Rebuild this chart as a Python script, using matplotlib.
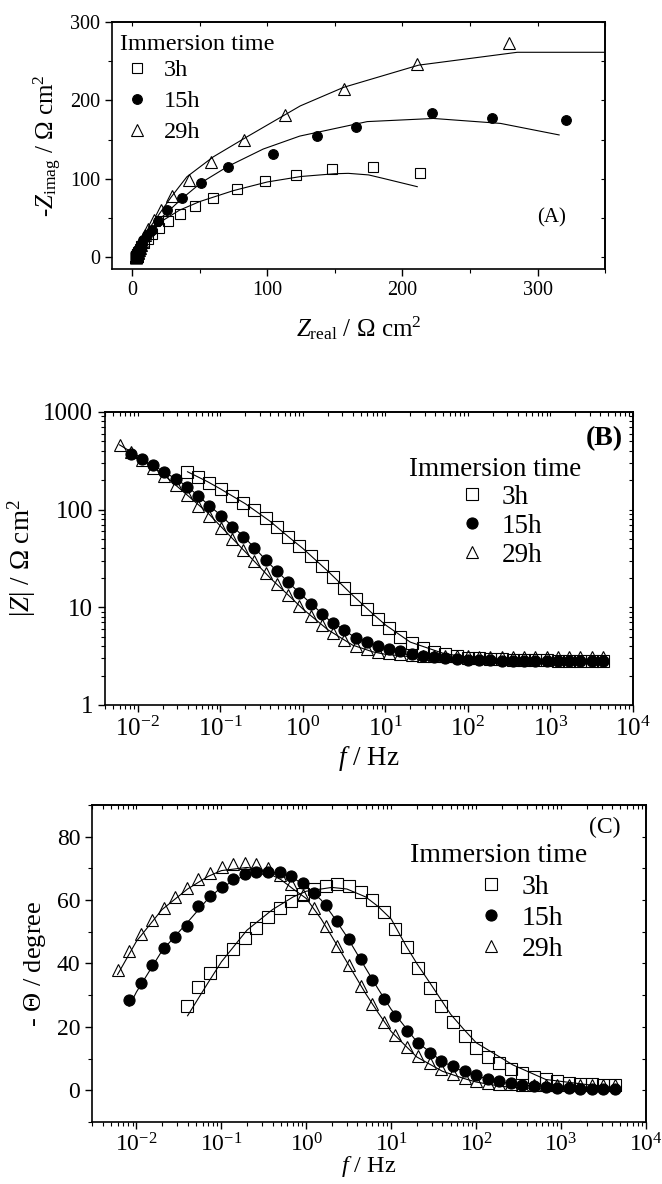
import numpy as np
import matplotlib
matplotlib.use('Agg')
from matplotlib import pyplot as plt
from matplotlib.ticker import MultipleLocator, FixedLocator, FixedFormatter, LogLocator, NullFormatter

plt.rcParams['font.family'] = 'Liberation Serif'
plt.rcParams['mathtext.fontset'] = 'custom'
plt.rcParams['mathtext.rm'] = 'Liberation Serif'
plt.rcParams['mathtext.it'] = 'Liberation Serif:italic'
plt.rcParams['axes.linewidth'] = 1.2

# measurement frequencies (Hz), 29h series uses all of them
freq = [0.0060, 0.0082, 0.0112, 0.0154, 0.0210, 0.0288, 0.0394, 0.0538, 0.0738, 0.101,
        0.138, 0.189, 0.258, 0.354, 0.484, 0.662, 0.906, 1.24, 1.70, 2.32,
        3.18, 4.35, 5.94, 8.13, 11.1, 15.2, 20.8, 28.5, 39.0, 53.4,
        73.1, 100, 137, 187, 256, 351, 480, 656, 898, 1230,
        1683, 2301, 3148, 4306]
f_29h = freq
f_15h = freq[1:]
f_3h = freq[6:]

# |Z| (ohm cm2)
zmod_3h = [245, 218, 189, 163, 139, 118, 99, 82, 66, 53,
           42.5, 33.6, 26.5, 20.5, 15.9, 12.2, 9.55, 7.55, 6.1, 5.0,
           4.3, 3.81, 3.52, 3.34, 3.18, 3.06, 3.0, 2.95, 2.92, 2.9,
           2.88, 2.87, 2.86, 2.85, 2.85, 2.84, 2.84, 2.84]
zmod_15h = [370, 328, 288, 245, 208, 172, 139, 110, 86, 67,
            52, 40, 30.5, 23.3, 18, 14, 10.9, 8.6, 6.95, 5.8,
            4.9, 4.46, 4.03, 3.73, 3.53, 3.35, 3.2, 3.1, 3.0, 2.95,
            2.9, 2.88, 2.86, 2.85, 2.84, 2.83, 2.83, 2.82, 2.82, 2.81,
            2.81, 2.8, 2.8]
zmod_29h = [460, 385, 325, 268, 220, 178, 140, 110, 85, 65,
            50, 38.5, 29.5, 22.5, 17.3, 13.3, 10.4, 8.2, 6.6, 5.4,
            4.6, 4.0, 3.7, 3.5, 3.38, 3.3, 3.24, 3.2, 3.18, 3.16,
            3.15, 3.14, 3.13, 3.12, 3.12, 3.11, 3.11, 3.1, 3.1, 3.1,
            3.1, 3.1, 3.1, 3.1]

# -phase (degree)
phase_3h = [26.7, 32.7, 36.9, 40.7, 44.5, 48.1, 51.3, 54.6, 57.5, 59.7,
            61.8, 63.5, 64.6, 65.0, 64.3, 62.6, 60.0, 56.1, 51.0, 45.1,
            38.7, 32.3, 26.5, 21.6, 17.0, 13.3, 10.6, 8.5, 6.8, 5.3,
            4.2, 3.4, 2.9, 2.4, 2.1, 1.9, 1.7, 1.6]
phase_15h = [28.4, 33.8, 39.6, 44.9, 48.2, 51.8, 58.2, 61.2, 64.0, 66.5,
             68.1, 68.9, 69.0, 68.9, 67.6, 65.3, 62.3, 58.3, 53.5, 47.6,
             41.3, 34.8, 28.8, 23.5, 18.8, 15.0, 11.8, 9.3, 7.5, 6.0,
             4.7, 3.4, 2.9, 2.3, 1.8, 1.4, 1.1, 0.8, 0.6, 0.5,
             0.4, 0.3, 0.3]
phase_29h = [38.1, 44.0, 49.2, 53.8, 57.6, 61.0, 63.9, 66.5, 68.7, 70.3,
             71.3, 71.8, 71.3, 70.2, 68.0, 65.0, 61.5, 57.6, 51.7, 45.6,
             39.4, 32.9, 27.1, 21.4, 17.3, 13.7, 10.9, 8.5, 6.8, 5.1,
             3.9, 2.9, 2.4, 2.1, 1.9, 1.8, 1.7, 1.6, 1.6, 1.6,
             1.6, 1.7, 1.7, 1.8]

# Nyquist data (ohm cm2)
zre_3h = [213, 178, 148, 121, 98, 77.5, 60, 46.5, 35.5, 26.7,
          20.1, 15, 11.4, 8.7, 6.9, 5.6, 4.8, 4.2, 3.84, 3.53,
          3.36, 3.22, 3.15, 3.1, 3.04, 3.0, 2.97, 2.93, 2.91, 2.89,
          2.87, 2.86, 2.85, 2.84, 2.84, 2.84, 2.84, 2.84]
zim_3h = [108, 115, 112, 105, 97, 87, 76, 65.5, 55.7, 45.8,
          37.5, 30, 23.9, 18.6, 14.3, 10.8, 8.3, 6.3, 4.74, 3.54,
          2.69, 2.04, 1.57, 1.23, 0.93, 0.72, 0.56, 0.45, 0.37, 0.3,
          0.25, 0.2, 0.17, 0.14, 0.12, 0.1, 0.09, 0.08]
zre_15h = [321, 266, 222, 166, 137, 104, 71, 51, 37, 26,
           19, 14.5, 10.9, 8.4, 6.9, 5.85, 5.07, 4.52, 4.13, 3.91,
           3.68, 3.6, 3.53, 3.42, 3.34, 3.24, 3.13, 3.06, 2.97, 2.93,
           2.9, 2.88, 2.86, 2.85, 2.84, 2.83, 2.83, 2.82, 2.82, 2.81,
           2.81, 2.8, 2.8]
zim_15h = [175, 178, 184, 166, 154.5, 132, 115, 95, 75, 60,
           46, 35, 28.5, 21.7, 16.6, 12.7, 9.65, 7.32, 5.59, 4.28,
           3.23, 2.55, 1.94, 1.49, 1.14, 0.87, 0.65, 0.5, 0.39, 0.31,
           0.24, 0.17, 0.14, 0.11, 0.09, 0.07, 0.05, 0.04, 0.03, 0.02,
           0.02, 0.01, 0.01]
zre_29h = [362, 279, 211, 157, 113, 83, 58.5, 42, 29.5, 21.5,
           16, 12, 9.46, 7.6, 6.5, 5.6, 4.96, 4.4, 4.09, 3.78,
           3.55, 3.36, 3.29, 3.26, 3.23, 3.21, 3.18, 3.16, 3.16, 3.15,
           3.14, 3.14, 3.13, 3.12, 3.12, 3.11, 3.11, 3.1, 3.1, 3.1,
           3.1, 3.1, 3.1, 3.1]
zim_29h = [284, 273, 247, 214, 181, 150, 122, 98.5, 77.5, 60,
           47.4, 36.6, 27.9, 21.2, 16, 12.1, 9.14, 6.9, 5.18, 3.86,
           2.92, 2.17, 1.69, 1.28, 1.0, 0.78, 0.61, 0.47, 0.38, 0.28,
           0.21, 0.16, 0.13, 0.11, 0.1, 0.1, 0.09, 0.09, 0.09, 0.09,
           0.09, 0.09, 0.1, 0.1]

# fitted curves
fitA_re_3h = [3, 5, 10, 20, 35, 50, 75, 100, 125, 150, 160, 175, 186, 211]
fitA_im_3h = [0, 10, 25, 44, 60, 71, 85, 96, 103, 106.5, 107, 105, 100.5, 90]
fitA_re_15h = [3, 6, 12, 20, 37, 51, 71, 97, 124, 174, 223, 272.6, 316]
fitA_im_15h = [0, 12, 30, 48, 75, 95, 116, 138, 154.5, 173, 177, 170.7, 156]
fitA_re_29h = [3, 6, 12, 20, 29, 40.5, 60, 85, 124.4, 156.5, 212, 285, 350]
fitA_im_29h = [0, 15, 35, 55, 77, 102.6, 128, 153.6, 193, 216.7, 245, 261.4, 261.4]

fitB_f_3h = [0.04, 0.07, 0.1, 0.2, 0.4, 0.7, 1, 2, 4, 7, 10, 20, 50, 100, 300, 1000, 4000]
fitB_3h = [244, 193, 163, 115, 76, 51, 40, 23.5, 13.3, 8.6, 6.6, 4.4, 3.38, 3.06, 2.9, 2.86, 2.84]
fitB_f_15h = [0.0082, 0.01, 0.02, 0.04, 0.07, 0.1, 0.2, 0.4, 0.7, 1, 2, 4, 7, 10, 20, 50, 100, 300, 1000, 4300]
fitB_15h = [370, 340, 250, 172, 114, 88, 51, 27.5, 17.3, 13, 7.6, 5.1, 4.2, 3.8, 3.22, 2.96, 2.9, 2.85, 2.82, 2.8]
fitB_f_29h = [0.006, 0.01, 0.02, 0.04, 0.07, 0.1, 0.2, 0.4, 0.7, 1, 2, 4, 7, 10, 20, 50, 100, 300, 1000, 4300]
fitB_29h = [460, 355, 232, 140, 93, 68, 37, 20, 12.8, 9.6, 5.9, 4.1, 3.5, 3.3, 3.12, 3.0, 2.95, 2.9, 2.88, 2.87]

fitC_f_3h = [0.04, 0.07, 0.1, 0.2, 0.4, 0.7, 1, 2, 3, 5, 7, 10, 15, 20, 30, 50, 70, 100, 270, 660, 4000]
fitC_3h = [23.5, 34, 40.5, 50.5, 57, 61, 62.8, 64, 63.5, 61, 58, 54, 45.5, 40, 33, 24, 19.5, 15, 8, 3.4, 0.8]
fitC_f_15h = [0.0082, 0.01, 0.02, 0.04, 0.07, 0.1, 0.2, 0.3, 0.5, 0.7, 1, 1.5, 2, 3, 5, 7, 10, 20, 40, 70, 100, 200, 500, 1000, 4300]
fitC_15h = [26.5, 31, 44, 53, 60.5, 64, 68.2, 69, 68.5, 67, 64.3, 60, 55.5, 48.5, 38.5, 32, 25.5, 15.3, 9.0, 6.0, 4.5, 2.5, 1.2, 0.7, 0.3]
fitC_f_29h = [0.006, 0.01, 0.02, 0.04, 0.07, 0.1, 0.2, 0.3, 0.5, 0.7, 1, 1.5, 2, 3, 5, 7, 10, 20, 40, 70, 100, 200, 500, 1000, 4300]
fitC_29h = [36.5, 47, 57, 63.5, 67.5, 69.3, 70.3, 69.5, 66.5, 63.5, 60.5, 54, 48.5, 40.5, 30.5, 24.5, 18.5, 10.5, 6, 3.8, 2.6, 1.2, 0.5, 0.3, 0.2]

labels = ['3h', '15h', '29h']
markers = ['s', 'o', '^']
faces = ['none', 'k', 'none']
decades = [1e-2, 1e-1, 1e0, 1e1, 1e2, 1e3, 1e4]


def style(ax, xlog, tick_size, xmaj=None, xmin=None, ymaj=None, ymin=None):
    ax.tick_params(which='both', direction='out', top=False, right=False, labelsize=tick_size)
    ax.tick_params(which='major', length=5, width=1.0)
    ax.tick_params(which='minor', length=3, width=0.8)
    top = ax.secondary_xaxis('top')
    right = ax.secondary_yaxis('right')
    if not xlog:
        ax.xaxis.set_major_locator(MultipleLocator(xmaj))
        ax.xaxis.set_minor_locator(MultipleLocator(xmin))
        top.xaxis.set_major_locator(MultipleLocator(xmaj))
        top.xaxis.set_minor_locator(MultipleLocator(xmin))
    else:
        ax.xaxis.set_major_locator(FixedLocator(decades))
        ax.xaxis.set_minor_locator(LogLocator(base=10, subs=np.arange(2, 10), numticks=20))
        ax.xaxis.set_minor_formatter(NullFormatter())
    if ymaj is not None:
        ax.yaxis.set_major_locator(MultipleLocator(ymaj))
        ax.yaxis.set_minor_locator(MultipleLocator(ymin))
        right.yaxis.set_major_locator(MultipleLocator(ymaj))
        right.yaxis.set_minor_locator(MultipleLocator(ymin))
    top.tick_params(which='both', direction='in', labeltop=False, length=3, width=0.8)
    right.tick_params(which='both', direction='in', labelright=False, length=3, width=0.8)
    for s in (top, right):
        for sp in s.spines.values():
            sp.set_linewidth(1.2)


fig = plt.figure(figsize=(6.62, 11.84), dpi=100)

# ---------------- (A) Nyquist
axA = fig.add_axes([0.169, 0.7728, 0.745, 0.2086])
fitsA = [(fitA_re_3h, fitA_im_3h), (fitA_re_15h, fitA_im_15h), (fitA_re_29h, fitA_im_29h)]
dataA = [(zre_3h, zim_3h), (zre_15h, zim_15h), (zre_29h, zim_29h)]
for (fx, fy) in fitsA:
    axA.plot(fx, fy, '-', color='k', lw=0.8)
hA = []
for (x, y), lab, m, fc in zip(dataA, labels, markers, faces):
    h, = axA.plot(x, y, ls='none', marker=m, ms=7 if m != '^' else 8, mfc=fc, mec='k', mew=0.8, label=lab)
    hA.append(h)
axA.set_xlim(-15, 350)
axA.set_ylim(-15, 300)
style(axA, False, 14.5, 100, 50, 100, 50)
axA.set_xlabel(r'$Z_{\rm real}$ / $\Omega$ cm$^2$', fontsize=18, labelpad=10)
axA.set_ylabel(r'-$Z_{\rm imag}$ / $\Omega$ cm$^2$', fontsize=18, labelpad=4)
axA.text(0.016, 0.907, 'Immersion time', transform=axA.transAxes, fontsize=17.5, va='center', ha='left')
axA.legend(handles=hA, loc='upper left', bbox_to_anchor=(0.026, 0.85), frameon=False,
           fontsize=17.5, borderpad=0, borderaxespad=0, handlelength=1.0, handletextpad=0.6,
           labelspacing=0.37)
axA.text(0.892, 0.206, '(A)', transform=axA.transAxes, fontsize=15, ha='center', va='center')

# ---------------- (B) Bode modulus
axB = fig.add_axes([0.1586, 0.4046, 0.7976, 0.2475])
fitsB = [(fitB_f_3h, fitB_3h), (fitB_f_15h, fitB_15h), (fitB_f_29h, fitB_29h)]
dataB = [(f_3h, zmod_3h), (f_15h, zmod_15h), (f_29h, zmod_29h)]
for (fx, fy) in fitsB:
    axB.plot(fx, fy, '-', color='k', lw=0.8)
hB = []
for (x, y), lab, m, fc in zip(dataB, labels, markers, faces):
    h, = axB.plot(x, y, ls='none', marker=m, ms=8 if m != '^' else 9, mfc=fc, mec='k', mew=0.8, label=lab)
    hB.append(h)
axB.set_xscale('log')
axB.set_yscale('log')
axB.set_xlim(0.004, 1e4)
axB.set_ylim(1, 1000)
style(axB, True, 18)
axB.yaxis.set_major_locator(FixedLocator([1, 10, 100, 1000]))
axB.yaxis.set_major_formatter(FixedFormatter(['1', '10', '100', '1000']))
axB.yaxis.set_minor_formatter(NullFormatter())
axB.set_xlabel(r'$f$ / Hz', fontsize=19.5, labelpad=2)
axB.set_ylabel(r'|$Z$| / $\Omega$ cm$^2$', fontsize=19.5, labelpad=4)
axB.text(0.576, 0.802, 'Immersion time', transform=axB.transAxes, fontsize=19.5, va='center', ha='left')
axB.legend(handles=hB, loc='upper left', bbox_to_anchor=(0.669, 0.752), frameon=False,
           fontsize=19.5, borderpad=0, borderaxespad=0, handlelength=1.0, handletextpad=0.6,
           labelspacing=0.15)
axB.text(0.945, 0.91, '(B)', transform=axB.transAxes, fontsize=20, fontweight='bold', ha='center', va='center')

# ---------------- (C) Bode phase
axC = fig.add_axes([0.139, 0.0524, 0.8369, 0.2677])
fitsC = [(fitC_f_3h, fitC_3h), (fitC_f_15h, fitC_15h), (fitC_f_29h, fitC_29h)]
dataC = [(f_3h, phase_3h), (f_15h, phase_15h), (f_29h, phase_29h)]
for (fx, fy) in fitsC:
    axC.plot(fx, fy, '-', color='k', lw=0.8)
hC = []
for (x, y), lab, m, fc in zip(dataC, labels, markers, faces):
    h, = axC.plot(x, y, ls='none', marker=m, ms=8 if m != '^' else 9, mfc=fc, mec='k', mew=0.8, label=lab)
    hC.append(h)
axC.set_xscale('log')
axC.set_xlim(0.003, 1e4)
axC.set_ylim(-10, 90)
style(axC, True, 17, ymaj=20, ymin=10)
axC.set_xlabel(r'$f$ / Hz', fontsize=17.5, labelpad=-2)
axC.set_ylabel(r'- $\mathit{\Theta}$ / degree', fontsize=19, labelpad=6)
axC.text(0.574, 0.84, 'Immersion time', transform=axC.transAxes, fontsize=20, va='center', ha='left')
axC.legend(handles=hC, loc='upper left', bbox_to_anchor=(0.695, 0.78), frameon=False,
           fontsize=20, borderpad=0, borderaxespad=0, handlelength=1.0, handletextpad=0.6,
           labelspacing=0.2)
axC.text(0.925, 0.93, '(C)', transform=axC.transAxes, fontsize=17, ha='center', va='center')

fig.savefig('out.png', dpi=100)
